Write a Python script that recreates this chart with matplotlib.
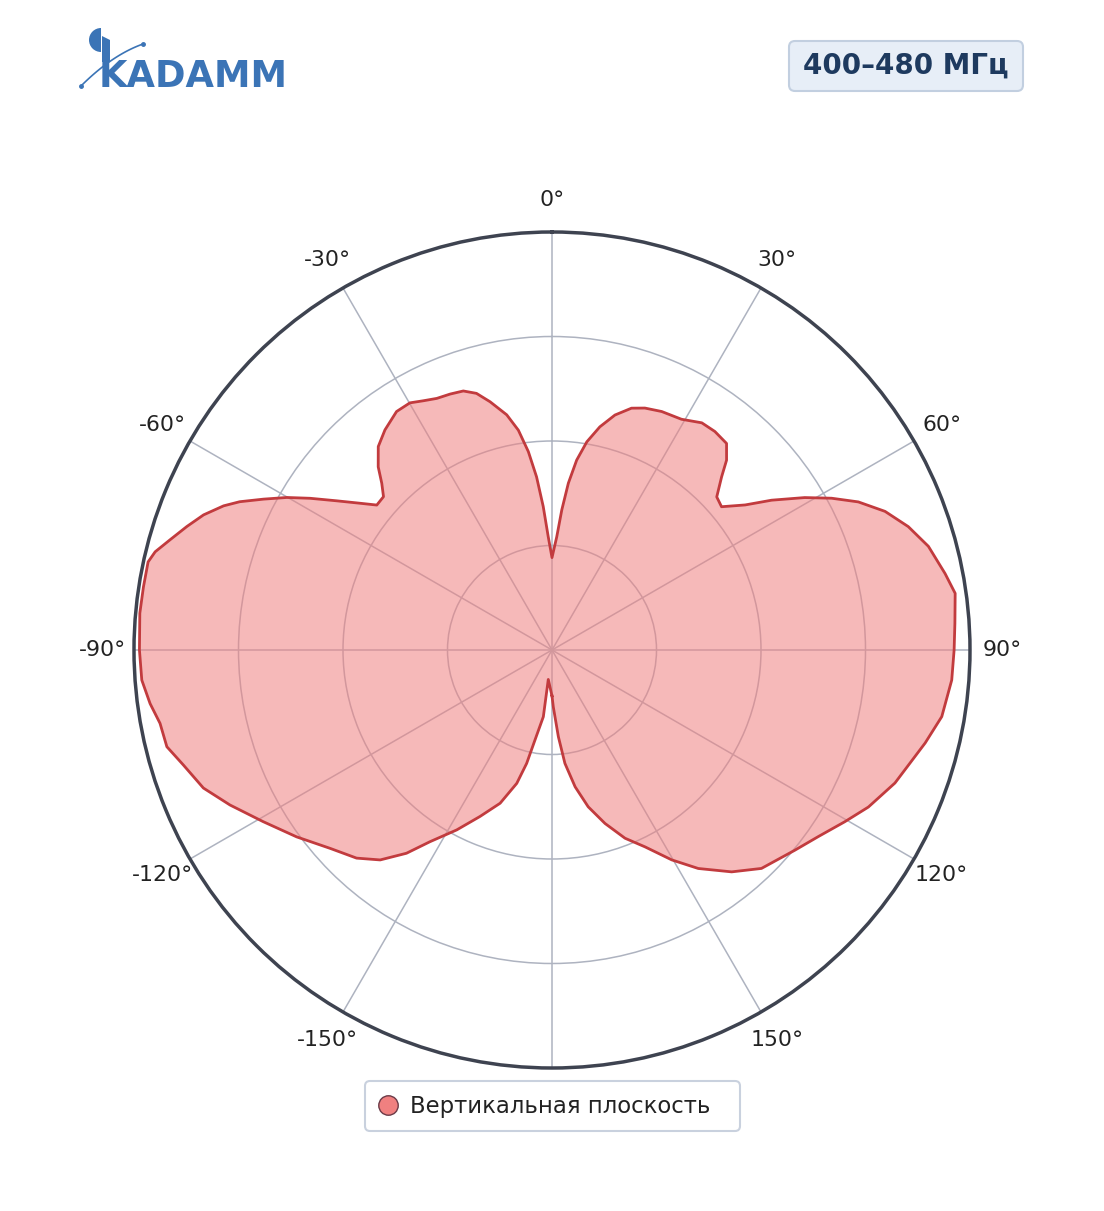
import numpy as np
import matplotlib
matplotlib.use("Agg")
import matplotlib.pyplot as plt
from matplotlib.lines import Line2D
from matplotlib.patches import Wedge, FancyBboxPatch, Polygon

# pattern (angle in degrees, relative level 0..1)
angles_deg = [-180, -172.8, -172.6, -169.3, -167.4, -165.2, -161.3, -156.6, -152.1, -147.5,
              -144.4, -140.7, -136.8, -131.8, -126.2, -120.7, -115.7, -111.6, -107.3, -104.1,
              -100.6, -97.6, -94.2, -90, -84.9, -81.2, -77.7, -76.1, -73.9, -71.3,
              -68.8, -66.3, -64.6, -62.4, -60.1, -57.9, -55.3, -52.6, -50.4, -47.7,
              -45.6, -43.5, -40.5, -37.2, -33.1, -29.9, -27.3, -24.6, -21.7, -18.9,
              -16.4, -14, -10.9, -8.7, -6.8, -5.1, -3.5, -1.9, 0, 2.4,
              4, 5.6, 7.4, 9.5, 12.1, 15, 18.2, 21, 24.7, 29.3,
              33.4, 36.7, 40.2, 42.6, 44.4, 47.1, 49.8, 53.1, 55.7, 58.9,
              61.5, 64.2, 67.4, 70.9, 74.6, 79, 82, 86.2, 90, 94.3,
              99.7, 104, 111.2, 116.4, 120.4, 125, 129.5, 136.2, 141, 146.2,
              150.3, 154.7, 158.8, 163, 167, 170.4, 173.5, 175.8, 178.7, 180]
level = [0.11, 0.071, 0.161, 0.219, 0.278, 0.33, 0.387, 0.434, 0.487, 0.544,
         0.598, 0.649, 0.683, 0.712, 0.757, 0.804, 0.855, 0.897, 0.924, 0.95,
         0.954, 0.97, 0.984, 0.987, 0.99, 0.989, 0.989, 0.978, 0.951, 0.922,
         0.894, 0.858, 0.827, 0.779, 0.732, 0.683, 0.627, 0.578, 0.544, 0.545,
         0.57, 0.604, 0.64, 0.661, 0.681, 0.682, 0.671, 0.662, 0.659, 0.655,
         0.64, 0.612, 0.573, 0.532, 0.478, 0.416, 0.344, 0.271, 0.221, 0.271,
         0.336, 0.401, 0.458, 0.505, 0.546, 0.582, 0.609, 0.62, 0.628, 0.633,
         0.651, 0.652, 0.647, 0.617, 0.58, 0.538, 0.531, 0.578, 0.636, 0.706,
         0.761, 0.814, 0.863, 0.902, 0.934, 0.958, 0.974, 0.966, 0.962, 0.959,
         0.946, 0.92, 0.88, 0.845, 0.812, 0.778, 0.753, 0.724, 0.683, 0.629,
         0.578, 0.521, 0.483, 0.434, 0.385, 0.332, 0.273, 0.208, 0.136, 0.11]

tick_deg = [0, 30, 60, 90, 120, 150, 180, 210, 240, 270, 300, 330]
tick_labels = ["0°", "30°", "60°", "90°", "120°", "150°", "",
               "-150°", "-120°", "-90°", "-60°", "-30°"]
ring_levels = [0.25, 0.5, 0.75]

band_label = "400–480 МГц"
series_name = "Вертикальная плоскость"

W, H = 1104, 1211
fig = plt.figure(figsize=(W / 100, H / 100), dpi=100)

# overlay in pixel coords for the logo, badge and legend frame
over = fig.add_axes([0, 0, 1, 1])
over.set_xlim(0, W)
over.set_ylim(H, 0)
over.axis("off")

ax = fig.add_axes([134 / W, 1 - 1068 / H, 836 / W, 836 / H], projection="polar")
ax.set_theta_zero_location("N")
ax.set_theta_direction(-1)
ax.set_ylim(0, 1)
ax.set_yticks(ring_levels)
ax.set_yticklabels([])
ax.set_xticks(np.deg2rad(tick_deg))
ax.set_xticklabels(tick_labels, fontsize=15.8, color="#222222")
ax.tick_params(axis="x", pad=12.5)
ax.grid(True, color="#aeb3c0", linewidth=1.1)
ax.spines["polar"].set_color("#3e4350")
ax.spines["polar"].set_linewidth(2.5)
ax.set_axisbelow(True)

theta = np.deg2rad(angles_deg)
ax.fill(theta, level, color="lightcoral", alpha=0.55, linewidth=0, zorder=2)
ax.plot(theta, level, color="#c23b3e", linewidth=2, zorder=3)

# legend: frame drawn separately so it can be wider than its content
over.add_patch(FancyBboxPatch((368, 1084), 369, 44,
                              boxstyle="round,pad=3,rounding_size=5",
                              facecolor="white", edgecolor="#c9d1de",
                              linewidth=1.5))
handle = Line2D([], [], linestyle="none", marker="o", markersize=14,
                markerfacecolor="lightcoral", markeredgecolor="#6b3b48",
                markeredgewidth=1)
leg = fig.legend([handle], [series_name], loc="center left",
                 bbox_to_anchor=(377 / W, 1 - 1106 / H), fontsize=16.4,
                 frameon=False, borderpad=0, borderaxespad=0,
                 handlelength=1.0, handletextpad=0.45)
for t in leg.get_texts():
    t.set_color("#222222")

# band badge
over.add_patch(FancyBboxPatch((792, 44), 228, 44,
                              boxstyle="round,pad=3,rounding_size=6",
                              facecolor="#e7eef7", edgecolor="#c2cfe0",
                              linewidth=1.5))
over.text(906, 66, band_label, fontsize=20, fontweight="bold",
          color="#1e3a5f", ha="center", va="center")

# logo
logo_blue = "#3b74b6"
over.add_patch(Wedge((101, 40), 12, 90, 270, facecolor=logo_blue, edgecolor="none"))
over.add_patch(Polygon([(102, 36), (110, 40), (110, 62), (102, 62)],
                       closed=True, facecolor=logo_blue, edgecolor="none"))
arc_t = np.linspace(0, 1, 40)
arc_x = 81 + 62 * arc_t
arc_y = 86 - 62 * arc_t + 20 * arc_t ** 2
over.plot(arc_x, arc_y, color=logo_blue, linewidth=1.2)
over.plot([81, 143], [86, 44], linestyle="none", marker="o", markersize=2.5,
          color=logo_blue)
over.text(99, 87, "KADAMM", fontsize=26.5, fontweight="heavy", color=logo_blue,
          ha="left", va="baseline")

fig.savefig("out.png", dpi=100)
